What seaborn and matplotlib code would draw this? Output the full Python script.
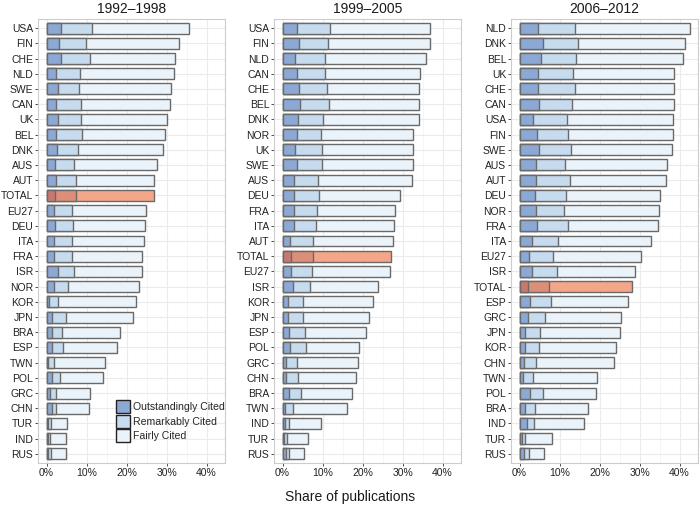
import matplotlib
matplotlib.use("Agg")
import matplotlib.pyplot as plt
import seaborn as sns
import pandas as pd
from matplotlib.patches import Patch
from matplotlib.ticker import MultipleLocator, FuncFormatter

sns.set_theme(style="whitegrid")
plt.rcParams['font.family'] = ['Liberation Sans', 'DejaVu Sans']

periods = ["1992\u20131998", "1999\u20132005", "2006\u20132012"]

countries_1 = ["USA", "FIN", "CHE", "NLD", "SWE", "CAN", "UK", "BEL", "DNK", "AUS", "AUT",
               "TOTAL", "EU27", "DEU", "ITA", "FRA", "ISR", "NOR", "KOR", "JPN", "BRA", "ESP",
               "TWN", "POL", "GRC", "CHN", "TUR", "IND", "RUS"]
outstanding_1 = [3.5, 3.2, 3.7, 2.4, 2.8, 2.4, 2.75, 2.4, 2.5, 2.2, 2.4,
                 2.2, 1.75, 2.0, 1.9, 1.9, 2.8, 1.9, 0.67, 1.4, 1.4, 1.4,
                 0.25, 1.4, 0.75, 1.25, 0.4, 0.33, 0.4]
remarkable_1 = [11.4, 9.9, 10.8, 8.25, 8.2, 8.7, 8.7, 8.8, 7.8, 6.8, 7.4,
                7.25, 6.25, 6.7, 6.3, 6.3, 6.9, 5.3, 2.8, 4.9, 3.75, 4.2,
                1.9, 3.25, 2.25, 2.4, 1.1, 0.75, 1.2]
fairly_1 = [35.7, 33.1, 32.2, 31.8, 31.1, 30.75, 30.2, 29.6, 29.0, 27.5, 26.75,
            26.75, 24.9, 24.5, 24.25, 23.9, 23.75, 23.1, 22.4, 21.6, 18.4, 17.5,
            14.7, 14.1, 10.9, 10.7, 5.2, 4.75, 4.75]

countries_2 = ["USA", "FIN", "NLD", "CAN", "CHE", "BEL", "DNK", "NOR", "UK", "SWE", "AUS",
               "DEU", "FRA", "ITA", "AUT", "TOTAL", "EU27", "ISR", "KOR", "JPN", "ESP", "POL",
               "GRC", "CHN", "BRA", "TWN", "IND", "TUR", "RUS"]
outstanding_2 = [3.6, 4.0, 3.1, 3.5, 4.0, 4.25, 3.75, 3.6, 3.0, 3.6, 2.75,
                 2.75, 2.75, 2.75, 1.75, 2.1, 2.1, 2.5, 1.33, 1.33, 1.6, 1.75,
                 0.9, 0.9, 1.6, 0.5, 0.6, 0.33, 0.83]
remarkable_2 = [11.75, 11.3, 10.5, 10.5, 11.2, 11.5, 10.0, 9.6, 9.75, 9.9, 8.75,
                9.0, 8.5, 8.25, 7.6, 7.5, 7.25, 6.75, 5.0, 5.0, 5.6, 5.75,
                3.6, 3.75, 4.6, 2.5, 1.5, 1.0, 1.5]
fairly_2 = [36.75, 36.75, 35.75, 34.25, 34.0, 34.0, 34.0, 32.7, 32.6, 32.5, 32.3,
            29.3, 28.0, 27.8, 27.5, 27.0, 26.8, 23.75, 22.5, 21.7, 20.75, 19.1,
            18.8, 18.25, 17.4, 16.0, 9.5, 6.25, 5.25]

countries_3 = ["NLD", "DNK", "BEL", "UK", "CHE", "CAN", "USA", "FIN", "SWE", "AUS", "AUT",
               "DEU", "NOR", "FRA", "ITA", "EU27", "ISR", "TOTAL", "ESP", "GRC", "JPN", "KOR",
               "CHN", "TWN", "POL", "BRA", "IND", "TUR", "RUS"]
outstanding_3 = [4.5, 5.75, 5.25, 4.5, 4.6, 4.75, 3.4, 4.33, 4.75, 4.0, 4.0,
                 3.75, 4.0, 4.33, 3.0, 2.25, 3.2, 2.0, 2.5, 2.0, 1.25, 1.4,
                 1.0, 0.83, 2.6, 1.4, 1.75, 0.6, 1.1]
remarkable_3 = [13.75, 14.6, 14.1, 13.25, 13.75, 13.0, 11.75, 12.1, 12.8, 11.25, 12.5,
                11.5, 11.2, 12.0, 9.7, 8.33, 9.25, 7.3, 7.9, 6.4, 5.2, 4.8,
                4.1, 3.33, 5.75, 3.75, 3.6, 1.4, 2.4]
fairly_3 = [42.5, 41.25, 40.75, 38.7, 38.6, 38.5, 38.3, 38.25, 38.0, 36.9, 36.5,
            35.0, 34.9, 34.6, 32.8, 30.25, 28.8, 28.0, 27.0, 25.3, 25.0, 24.0,
            23.5, 19.3, 19.0, 17.0, 16.0, 8.0, 6.0]

panels = [
    (countries_1, outstanding_1, remarkable_1, fairly_1),
    (countries_2, outstanding_2, remarkable_2, fairly_2),
    (countries_3, outstanding_3, remarkable_3, fairly_3),
]

blue = {"Outstandingly Cited": "#8CA8D4", "Remarkably Cited": "#C6DBEE", "Fairly Cited": "#EAF2FA"}
red = {"Outstandingly Cited": "#C8786E", "Remarkably Cited": "#DD8E78", "Fairly Cited": "#F3A688"}
levels = ["Fairly Cited", "Remarkably Cited", "Outstandingly Cited"]

fig = plt.figure(figsize=(7.0, 5.09), dpi=100)
lefts = [38 / 700, 274 / 700, 511 / 700]
width = 187 / 700
bottom = 1 - 463 / 509
height = (463 - 19) / 509

for i, (cats, o, r, f) in enumerate(panels):
    ax = fig.add_axes([lefts[i], bottom, width, height])
    df = pd.DataFrame({"country": cats, "Outstandingly Cited": o,
                       "Remarkably Cited": r, "Fairly Cited": f})
    for lev in levels:
        pal = {c: (red[lev] if c == "TOTAL" else blue[lev]) for c in cats}
        sns.barplot(data=df, x=lev, y="country", hue="country", order=cats,
                    hue_order=cats, palette=pal, orient="h", width=0.72,
                    edgecolor="#6A6A6A", linewidth=1.0, legend=False, ax=ax,
                    saturation=1)
    ax.set_xlim(-2.15, 44.6)
    ax.set_ylim(len(cats) - 1 + 0.6, -0.6)
    ax.xaxis.set_major_locator(MultipleLocator(10))
    ax.xaxis.set_minor_locator(MultipleLocator(5))
    ax.xaxis.set_major_formatter(FuncFormatter(lambda v, p: f"{int(round(v))}%"))
    ax.set_xlabel("")
    ax.set_ylabel("")
    ax.set_title(periods[i], fontsize=10, color="#1A1A1A", pad=4)
    ax.set_facecolor("white")
    ax.grid(True, which="major", axis="both", color="#EBEBEB", linewidth=0.8)
    ax.grid(True, which="minor", axis="x", color="#F4F4F4", linewidth=0.6)
    ax.set_axisbelow(True)
    for s in ax.spines.values():
        s.set_visible(True)
        s.set_color("#CCCCCC")
        s.set_linewidth(0.8)
    ax.tick_params(axis="both", which="major", labelsize=7.5, colors="#333333",
                   length=2.5, width=0.6, pad=1.0, left=True, bottom=True)
    ax.tick_params(axis="both", which="minor", length=0)
    ax.tick_params(axis="both", labelcolor="#222222")
    if i == 0:
        handles = [Patch(facecolor=blue[l], edgecolor="#222222", linewidth=1.0, label=l)
                   for l in ["Outstandingly Cited", "Remarkably Cited", "Fairly Cited"]]
        ax.legend(handles=handles, loc="lower left", bbox_to_anchor=(0.38, 0.03),
                  frameon=False, fontsize=7.6, handlelength=1.3, handleheight=1.5,
                  handletextpad=0.3, labelspacing=0.15, borderpad=0.2)

fig.text(0.5, 1 - 497 / 509, "Share of publications", ha="center", va="center",
         fontsize=10, color="#1A1A1A")

fig.savefig("out.png", dpi=100, facecolor="white")
